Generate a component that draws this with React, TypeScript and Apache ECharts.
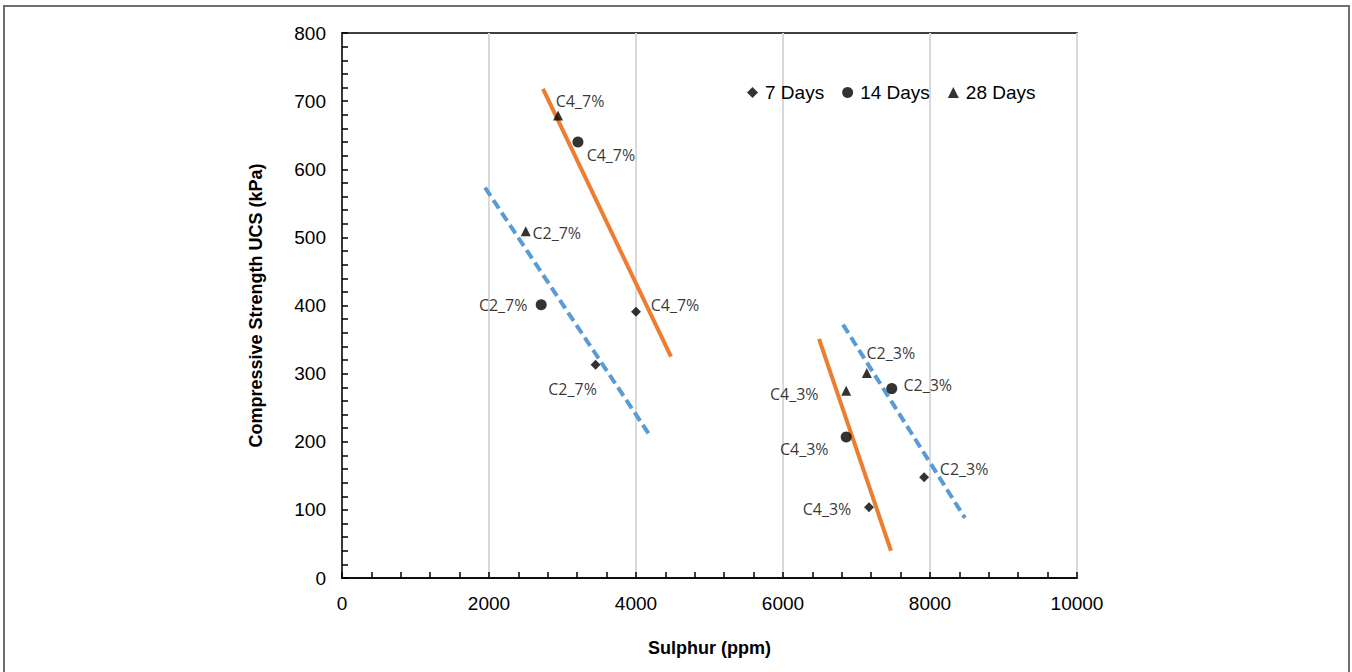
import React, { useEffect, useRef } from "react";
import * as echarts from "echarts";

// ---- data ----
const groups = ["C4_7%", "C2_7%", "C4_3%", "C2_3%"];
const seriesNames = ["7 Days", "14 Days", "28 Days"];
const sulphur7 = [4000, 3450, 7170, 7920];
const ucs7 = [391, 313, 104, 148];
const sulphur14 = [3210, 2710, 6860, 7480];
const ucs14 = [640, 401, 207, 278];
const sulphur28 = [2940, 2500, 6860, 7140];
const ucs28 = [679, 509, 275, 301];

// trend lines (start/end)
const trendC4_7X = [2735, 4476];
const trendC4_7Y = [718, 325];
const trendC2_7X = [1946, 4190];
const trendC2_7Y = [573, 209];
const trendC4_3X = [6490, 7469];
const trendC4_3Y = [351, 40];
const trendC2_3X = [6816, 8476];
const trendC2_3Y = [372, 88];

const xTicks = [0, 2000, 4000, 6000, 8000, 10000];
const yTicks = [0, 100, 200, 300, 400, 500, 600, 700, 800];

// ---- label placement (style) ----
const labelOffsets = [
  [[39, -7], [-23, 24], [-42, 2], [40, -8]],
  [[33, 13], [-38, 0], [-42, 12], [36, -4]],
  [[22, -14], [31, 2], [-52, 3], [24, -20]],
];
const symbols = ["diamond", "circle", "triangle"];
const symbolSizes = [10, 11, 10];

const pts = (xs: number[], ys: number[]) => xs.map((x, i) => [x, ys[i]]);

export default function App() {
  const ref = useRef<HTMLDivElement>(null);
  useEffect(() => {
    if (!ref.current) return;
    const chart = echarts.init(ref.current, null, { renderer: "svg" });
    const xs = [sulphur7, sulphur14, sulphur28];
    const ys = [ucs7, ucs14, ucs28];
    const scatterSeries = seriesNames.map((name, s) => ({
      name,
      type: "scatter",
      symbol: symbols[s],
      symbolSize: symbolSizes[s],
      itemStyle: { color: "#000" },
      z: 5,
      data: xs[s].map((x, i) => ({
        value: [x, ys[s][i]],
        name: groups[i],
        label: {
          show: true,
          position: "inside",
          offset: labelOffsets[s][i],
          formatter: groups[i],
          color: "#000",
          fontFamily: "Open Sans",
          fontSize: 16,
        },
      })),
    }));
    const trend = (x: number[], y: number[], color: string, dashed: boolean) => ({
      type: "line",
      data: pts(x, y),
      showSymbol: false,
      symbol: "none",
      silent: true,
      z: 3,
      lineStyle: {
        color,
        width: 4,
        type: dashed ? [10, 5] : "solid",
        cap: "butt",
      },
    });
    const tickStyle = { color: "#000", width: 1.5 };
    chart.setOption({
      animation: false,
      backgroundColor: "#fff",
      textStyle: { fontFamily: "Liberation Sans" },
      graphic: [
        {
          type: "rect",
          shape: { x: 4, y: 6, width: 1345, height: 700 },
          style: { fill: "none", stroke: "#6e6e6e", lineWidth: 2 },
          silent: true,
        },
      ],
      grid: {
        left: 342,
        right: 275,
        top: 33,
        bottom: 94,
        show: true,
        borderColor: "#000",
        borderWidth: 1.5,
        backgroundColor: "transparent",
      },
      legend: {
        left: 747,
        top: 83,
        padding: 0,
        itemWidth: 11,
        itemHeight: 11,
        itemGap: 18,
        textStyle: { fontFamily: "Liberation Sans", fontSize: 19, color: "#000", padding: [0, 0, 0, 2] },
        data: seriesNames.map((n, i) => ({ name: n, icon: symbols[i] })),
      },
      xAxis: {
        type: "value",
        min: xTicks[0],
        max: xTicks[xTicks.length - 1],
        interval: 2000,
        name: "Sulphur (ppm)",
        nameLocation: "middle",
        nameGap: 61,
        nameTextStyle: { fontFamily: "Liberation Sans", fontSize: 18, fontWeight: "bold", color: "#000" },
        axisLine: { show: true, onZero: false, lineStyle: { color: "#000", width: 1.5 } },
        axisTick: { show: true, inside: true, length: 6, lineStyle: tickStyle },
        minorTick: { show: true, splitNumber: 5, length: 6, lineStyle: tickStyle },
        axisLabel: {
          margin: 16,
          fontFamily: "Liberation Sans",
          fontSize: 19,
          color: "#000",
          formatter: (v: number) => String(v),
        },
        splitLine: { show: true, lineStyle: { color: "#d9d9d9", width: 2 } },
      },
      yAxis: {
        type: "value",
        min: yTicks[0],
        max: yTicks[yTicks.length - 1],
        interval: 100,
        name: "Compressive Strength UCS (kPa)",
        nameLocation: "middle",
        nameGap: 77,
        nameTextStyle: { fontFamily: "Liberation Sans", fontSize: 18, fontWeight: "bold", color: "#000" },
        axisLine: { show: true, onZero: false, lineStyle: { color: "#000", width: 1.5 } },
        axisTick: { show: true, inside: true, length: 6, lineStyle: tickStyle },
        minorTick: { show: true, splitNumber: 5, length: 6, lineStyle: tickStyle },
        axisLabel: {
          margin: 16,
          fontFamily: "Liberation Sans",
          fontSize: 19,
          color: "#000",
          formatter: (v: number) => String(v),
        },
        splitLine: { show: false },
      },
      series: [
        trend(trendC4_7X, trendC4_7Y, "#ED7D31", false),
        trend(trendC2_7X, trendC2_7Y, "#5B9BD5", true),
        trend(trendC4_3X, trendC4_3Y, "#ED7D31", false),
        trend(trendC2_3X, trendC2_3Y, "#5B9BD5", true),
        ...scatterSeries,
      ],
    });
    return () => chart.dispose();
  }, []);
  return (
    <div
      ref={ref}
      style={{ position: "fixed", left: 0, top: 0, width: 1352, height: 672, background: "#fff" }}
    />
  );
}
